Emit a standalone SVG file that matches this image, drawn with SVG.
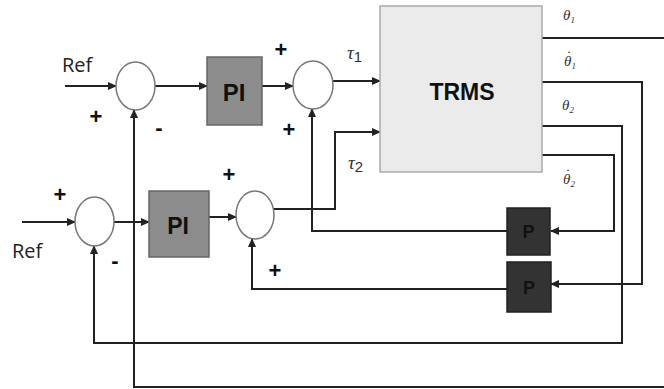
<svg xmlns="http://www.w3.org/2000/svg" width="664" height="389" viewBox="0 0 664 389">
<style>
.w{fill:none;stroke:#222;stroke-width:2}
.sum{fill:#fff;stroke:#777;stroke-width:1.5}
.pi{fill:#8c8c8c;stroke:#666;stroke-width:1.5}
.p{fill:#333;stroke:#222;stroke-width:1.5}
.b{font-family:"Liberation Sans",Arial,sans-serif;font-weight:bold;fill:#111;text-anchor:middle}
.ref{font-family:"Open Sans","Liberation Sans",Arial,sans-serif;font-size:20px;fill:#222}
.sg{font-family:"Liberation Sans",Arial,sans-serif;font-weight:bold;font-size:22px;fill:#111;text-anchor:middle}
.gr{font-family:"Liberation Serif","DejaVu Serif",serif;font-style:italic;fill:#333}
</style>
<defs>
<marker id="ah" markerUnits="userSpaceOnUse" markerWidth="9" markerHeight="8" refX="8" refY="4" orient="auto">
<path d="M0,0 L9,4 L0,8 z" fill="#222"/>
</marker>
</defs>
<rect width="664" height="389" fill="#fff"/>
<g id="connectors">
<path class="w" d="M65,86 H116" marker-end="url(#ah)"/>
<path class="w" d="M155,86 H207" marker-end="url(#ah)"/>
<path class="w" d="M262,86 H293" marker-end="url(#ah)"/>
<path class="w" d="M333,81 H380" marker-end="url(#ah)"/>
<path class="w" d="M274,209 H335 V132 H380" marker-end="url(#ah)"/>
<path class="w" d="M542,38 H664"/>
<path class="w" d="M542,82 H642 V284 H551" marker-end="url(#ah)"/>
<path class="w" d="M542,126 H622 V343 H94 V246" marker-end="url(#ah)"/>
<path class="w" d="M542,155 H614 V231 H551" marker-end="url(#ah)"/>
<path class="w" d="M507,231 H312 V109" marker-end="url(#ah)"/>
<path class="w" d="M507,289 H252 V239" marker-end="url(#ah)"/>
<path class="w" d="M664,387 H134 V110" marker-end="url(#ah)"/>
<path class="w" d="M22,222 H75" marker-end="url(#ah)"/>
<path class="w" d="M114,222 H149" marker-end="url(#ah)"/>
<path class="w" d="M209,217 H236" marker-end="url(#ah)"/>
</g>
<g id="sum1"><ellipse class="sum" cx="135.5" cy="86" rx="19.5" ry="24"/></g>
<g id="sum2"><ellipse class="sum" cx="313" cy="85" rx="20" ry="24"/></g>
<g id="sum3"><ellipse class="sum" cx="94.5" cy="221.5" rx="19.5" ry="24.5"/></g>
<g id="sum4"><ellipse class="sum" cx="255" cy="215" rx="19" ry="24"/></g>
<g id="pi1"><rect class="pi" x="207" y="57" width="55" height="68"/><text class="b" x="234" y="101" font-size="24">PI</text></g>
<g id="pi2"><rect class="pi" x="149" y="191" width="60" height="66"/><text class="b" x="178" y="234" font-size="23">PI</text></g>
<g id="trms"><rect x="380" y="6" width="162" height="166" fill="#ebebeb" stroke="#aaa" stroke-width="1.5"/><text class="b" x="462" y="100" font-size="23">TRMS</text></g>
<g id="p1"><rect class="p" x="507" y="208" width="43" height="47"/><text class="b" x="528.5" y="238" font-size="18">P</text></g>
<g id="p2"><rect class="p" x="507" y="262" width="44" height="50"/><text class="b" x="529" y="294" font-size="18">P</text></g>
<g id="labels">
<text class="ref" x="62" y="72">Ref</text>
<text class="ref" x="12" y="258">Ref</text>
<text class="sg" x="96" y="124">+</text>
<text class="sg" x="159" y="135">-</text>
<text class="sg" x="281" y="57">+</text>
<text class="sg" x="289" y="137">+</text>
<text class="sg" x="60" y="202">+</text>
<text class="sg" x="115" y="268">-</text>
<text class="sg" x="229" y="182">+</text>
<text class="sg" x="275" y="278">+</text>
<text class="gr" x="347" y="59" font-size="19">τ<tspan font-style="normal" font-family="Liberation Sans,sans-serif" font-size="15" dy="3">1</tspan></text>
<text class="gr" x="348" y="169" font-size="19">τ<tspan font-style="normal" font-family="Liberation Sans,sans-serif" font-size="15" dy="3">2</tspan></text>
<text class="gr" x="563" y="20" font-size="15">θ<tspan font-size="9" dy="3">1</tspan></text>
<text class="gr" x="564" y="66" font-size="15">θ<tspan dx="-6" dy="-5">˙</tspan><tspan font-size="9" dx="1" dy="8">1</tspan></text>
<text class="gr" x="562" y="110" font-size="15">θ<tspan font-size="9" dy="3">2</tspan></text>
<text class="gr" x="563" y="184" font-size="15">θ<tspan dx="-6" dy="-5">˙</tspan><tspan font-size="9" dx="1" dy="8">2</tspan></text>
</g>
</svg>
